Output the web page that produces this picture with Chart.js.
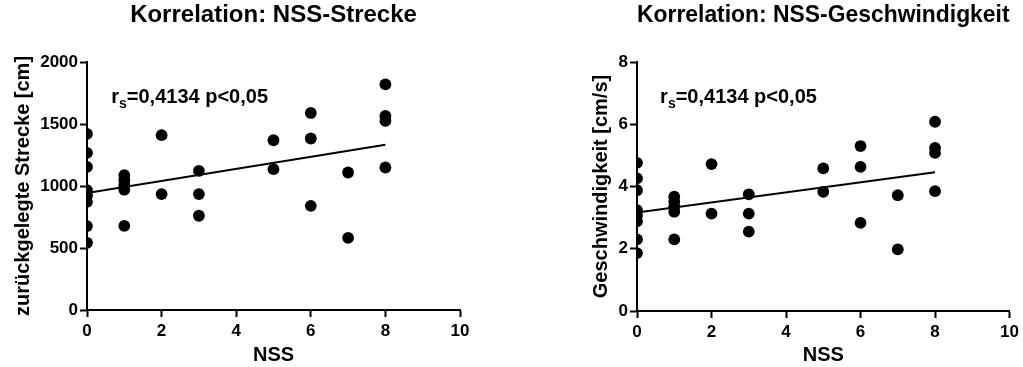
<!DOCTYPE html>
<html>
<head>
<meta charset="utf-8">
<script src="https://cdn.jsdelivr.net/npm/chart.js@4/dist/chart.umd.min.js"></script>
<style>
  html, body { margin: 0; padding: 0; background: #fff; width: 1023px; height: 367px; overflow: hidden; position: relative; }
  canvas { position: absolute; top: 0; }
  #distanceChart { left: 0; }
  #speedChart { left: 540px; }
</style>
</head>
<body>
<canvas id="distanceChart" width="480" height="367"></canvas>
<canvas id="speedChart" width="483" height="367"></canvas>
<script>
// NSS score of each animal
const nssScores = [0, 0, 0, 0, 0, 0, 0, 0, 1, 1, 1, 1, 1, 2, 2, 3, 3, 3, 5, 5, 6, 6, 6, 7, 7, 8, 8, 8, 8];
// distance travelled [cm]
const distanceCm = [1420, 1267, 1154, 967, 926, 872, 677, 542, 1087, 1047, 1007, 970, 678, 1410, 935, 1122, 935, 760, 1369, 1136, 1589, 1383, 840, 1109, 582, 1820, 1565, 1525, 1149];
// mean speed [cm/s]
const speedCmS = [4.76, 4.26, 3.88, 3.24, 3.08, 2.88, 2.30, 1.86, 3.67, 3.51, 3.35, 3.19, 2.30, 4.72, 3.13, 3.75, 3.13, 2.55, 4.58, 3.83, 5.30, 4.63, 2.83, 3.72, 1.98, 6.08, 5.24, 5.08, 3.85];

const nssTicks = [0, 2, 4, 6, 8, 10];
const distanceTicks = [0, 500, 1000, 1500, 2000];
const speedTicks = [0, 2, 4, 6, 8];

// Spearman result printed in both panels: base, subscript, remainder
const correlationText = ['r', 's', '=0,4134 p<0,05'];

const FONT = "'Liberation Sans', Arial, Helvetica, sans-serif";
Chart.defaults.font.family = FONT;
Chart.defaults.color = '#000';

function linearFit(xs, ys) {
  const n = xs.length;
  const mx = xs.reduce((a, b) => a + b, 0) / n;
  const my = ys.reduce((a, b) => a + b, 0) / n;
  let sxy = 0, sxx = 0;
  for (let i = 0; i < n; i++) {
    sxy += (xs[i] - mx) * (ys[i] - my);
    sxx += (xs[i] - mx) * (xs[i] - mx);
  }
  const slope = sxy / sxx;
  return { slope, intercept: my - slope * mx };
}

// Draws "r_s=..." with a lowered subscript at a data position
const correlationLabel = {
  id: 'correlationLabel',
  afterDatasetsDraw(chart, args, opts) {
    const { ctx, scales } = chart;
    const px = scales.x.getPixelForValue(opts.x);
    const py = scales.y.getPixelForValue(opts.y);
    ctx.save();
    ctx.fillStyle = '#000';
    ctx.textAlign = 'left';
    ctx.textBaseline = 'alphabetic';
    const main = `bold ${opts.size}px ${FONT}`;
    const sub = `bold ${opts.subSize}px ${FONT}`;
    let cx = px;
    ctx.font = main;
    ctx.fillText(correlationText[0], cx, py);
    cx += ctx.measureText(correlationText[0]).width;
    ctx.font = sub;
    ctx.fillText(correlationText[1], cx, py + opts.subShift);
    cx += ctx.measureText(correlationText[1]).width;
    ctx.font = main;
    ctx.fillText(correlationText[2], cx, py);
    ctx.restore();
  }
};

// plain numbers on the axes, no thousands separator
const plainTick = v => String(v);

function makePanel(canvasId, cfg) {
  const points = nssScores.map((x, i) => ({ x, y: cfg.values[i] }));
  const fit = linearFit(nssScores, cfg.values);
  const xMin = Math.min(...nssScores), xMax = Math.max(...nssScores);
  const fitLine = [
    { x: xMin, y: fit.intercept + fit.slope * xMin },
    { x: xMax, y: fit.intercept + fit.slope * xMax }
  ];
  const axisGrid = {
    display: true,
    drawOnChartArea: false,
    drawTicks: true,
    tickLength: 7,
    tickWidth: 2,
    tickColor: '#000',
    color: '#000'
  };
  const axisBorder = { display: true, color: '#000', width: 2 };

  return new Chart(document.getElementById(canvasId), {
    type: 'scatter',
    data: {
      datasets: [
        {
          data: points,
          pointRadius: 5.9,
          pointBorderWidth: 0,
          pointBackgroundColor: '#000',
          showLine: false
        },
        {
          data: fitLine,
          showLine: true,
          borderColor: '#000',
          borderWidth: 2,
          pointRadius: 0
        }
      ]
    },
    options: {
      responsive: false,
      animation: false,
      events: [],
      devicePixelRatio: 1,
      layout: { padding: { left: 0, right: cfg.padRight, top: 0, bottom: 0 } },
      plugins: {
        legend: { display: false },
        tooltip: { enabled: false },
        title: {
          display: true,
          fullSize: false,
          text: cfg.title,
          color: '#000',
          font: { size: 24, weight: 'bold' },
          padding: { top: 0.6, bottom: 32.6 }
        },
        correlationLabel: cfg.label
      },
      scales: {
        x: {
          type: 'linear',
          min: nssTicks[0],
          max: nssTicks[nssTicks.length - 1],
          afterBuildTicks: s => { s.ticks = nssTicks.map(v => ({ value: v })); },
          afterFit: s => { s.height = cfg.xAxisHeight; },
          border: axisBorder,
          grid: axisGrid,
          ticks: { color: '#000', font: { size: 17, weight: 'bold' }, padding: 4, maxRotation: 0, autoSkip: false, callback: plainTick },
          title: { display: true, text: 'NSS', color: '#000', font: { size: 20, weight: 'bold' }, padding: { top: 0, bottom: 0 } }
        },
        y: {
          type: 'linear',
          min: cfg.ticks[0],
          max: cfg.ticks[cfg.ticks.length - 1],
          afterBuildTicks: s => { s.ticks = cfg.ticks.map(v => ({ value: v })); },
          afterFit: s => { s.width = cfg.yAxisWidth; },
          border: axisBorder,
          grid: axisGrid,
          ticks: { color: '#000', font: { size: 17, weight: 'bold' }, padding: 2, autoSkip: false, callback: plainTick },
          title: { display: true, text: cfg.yTitle, color: '#000', font: { size: 20, weight: 'bold' }, padding: { top: cfg.yTitlePad, bottom: 0 } }
        }
      }
    },
    plugins: [correlationLabel]
  });
}

makePanel('distanceChart', {
  title: 'Korrelation: NSS-Strecke',
  yTitle: 'zurückgelegte Strecke [cm]',
  values: distanceCm,
  ticks: distanceTicks,
  yAxisWidth: 87,
  yTitlePad: 11,
  xAxisHeight: 57,
  padRight: 20,
  label: { x: 0.65, y: 1667, size: 20, subSize: 14, subShift: 5 }
});

makePanel('speedChart', {
  title: 'Korrelation: NSS-Geschwindigkeit',
  yTitle: 'Geschwindigkeit [cm/s]',
  values: speedCmS,
  ticks: speedTicks,
  yAxisWidth: 97,
  yTitlePad: 49,
  xAxisHeight: 56,
  padRight: 13,
  label: { x: 0.62, y: 6.67, size: 20, subSize: 14, subShift: 5 }
});
</script>
</body>
</html>
